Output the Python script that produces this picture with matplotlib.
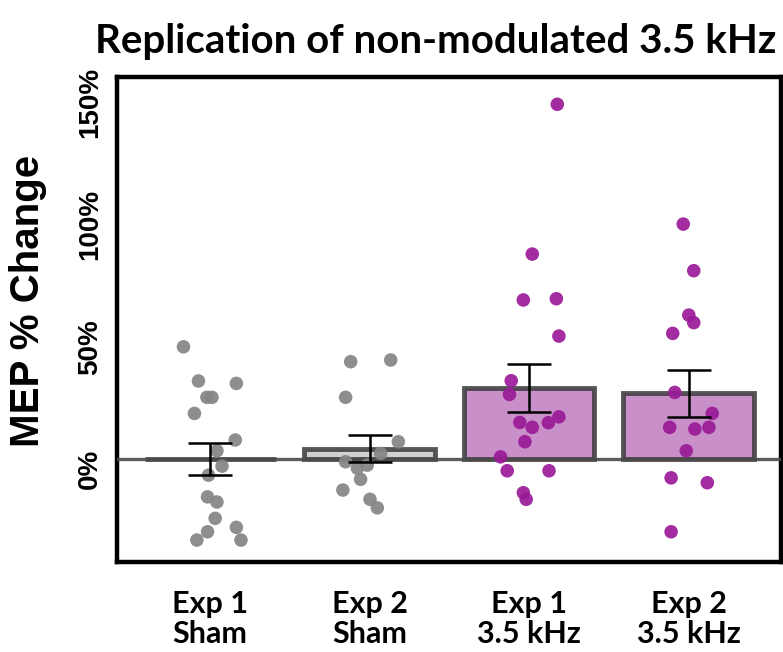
import matplotlib
matplotlib.use("Agg")
import matplotlib.pyplot as plt
import matplotlib.transforms as mtransforms
import numpy as np

# groups along the x axis
labels = ["Exp 1\nSham", "Exp 2\nSham", "Exp 1\n3.5 kHz", "Exp 2\n3.5 kHz"]

# bar means and standard errors (% change)
means = [-0.1, 4.3, 29.1, 27.0]
sems = [6.6, 5.4, 10.0, 9.7]

# individual subjects (% change) and their horizontal jitter
sham1 = [46.0, 32.0, 31.0, 25.3, 25.3, 18.7, 7.8, 3.4, -2.9, -6.6, -15.5, -17.6, -24.3, -28.0, -29.8, -33.2, -33.2]
sham1_jit = [-0.168, -0.074, 0.164, -0.021, 0.011, -0.099, 0.157, 0.042, 0.074, -0.011, -0.017, 0.042, 0.031, 0.164, -0.017, -0.084, 0.193]

sham2 = [39.9, 40.6, 25.3, 7.1, 2.3, -1.1, -3.8, -2.5, -8.3, -12.7, -16.5, -20.0]
sham2_jit = [-0.119, 0.132, -0.151, 0.180, 0.069, -0.151, -0.077, -0.015, -0.057, -0.168, 0.002, 0.048]

khz1 = [145.4, 84.0, 65.2, 65.7, 50.4, 32.1, 26.5, 15.0, 13.0, 14.9, 17.3, 7.1, 0.9, -4.8, -4.8, -13.8, -16.5]
khz1_jit = [0.177, 0.020, -0.036, 0.171, 0.187, -0.112, -0.123, -0.058, 0.020, 0.121, 0.187, -0.026, -0.179, -0.137, 0.125, -0.036, -0.018]

khz2 = [96.3, 77.2, 59.0, 55.9, 51.5, 27.3, 18.7, 13.0, 12.3, 13.0, 3.4, -7.7, -9.7, -29.8]
khz2_jit = [-0.033, 0.033, 0.002, 0.033, -0.099, -0.086, 0.149, -0.118, 0.040, 0.128, -0.014, -0.109, 0.118, -0.109]

points = [sham1, sham2, khz1, khz2]
jitter = [sham1_jit, sham2_jit, khz1_jit, khz2_jit]

bar_colors = ["#bdbdbd", "#c8c8c8", "#c07bbf", "#c07bbf"]
dot_colors = ["#858585", "#858585", "#9a1a98", "#9a1a98"]

fig = plt.figure(figsize=(7.83, 6.52), dpi=100)
ax = fig.add_axes([0.1494, 0.138, 0.848, 0.744])

x = np.arange(len(labels))
ax.bar(x, means, width=0.82, color=bar_colors, edgecolor="#3a3a3a",
       linewidth=3.5, alpha=0.85, zorder=2)
ax.axhline(0, color="#4a4a4a", linewidth=2.4, alpha=0.9, zorder=3)

for i in range(len(labels)):
    xs = x[i] + np.array(jitter[i])
    ax.scatter(xs, points[i], s=95, color=dot_colors[i], edgecolors="none",
               alpha=0.92, zorder=4)

ax.errorbar(x, means, yerr=sems, fmt="none", ecolor="black", elinewidth=1.8,
            capsize=16, capthick=1.8, zorder=5)

ax.set_xlim(-0.585, 3.58)
ax.set_ylim(-42.2, 156.6)

ax.set_xticks(x)
ax.set_xticklabels(labels, family="Lato", fontweight="bold", fontsize=22,
                   linespacing=1.1)
ax.set_yticks([0, 50, 100, 150])
ax.set_yticklabels(["0%", "50%", "100%", "150%"], rotation=90, va="center",
                   family="Liberation Sans", fontweight="bold", fontsize=20)
ax.tick_params(axis="both", length=0)
ax.tick_params(axis="x", pad=20)
ax.tick_params(axis="y", pad=10)

# the printed labels sit slightly below their ticks
shift = mtransforms.ScaledTranslation(0, -7 / 72, fig.dpi_scale_trans)
for t in ax.get_yticklabels():
    t.set_transform(t.get_transform() + shift)

for sp in ax.spines.values():
    sp.set_linewidth(3.2)
    sp.set_color("black")

ax.set_ylabel("MEP % Change", family="Liberation Sans", fontweight="bold",
              fontsize=29)
ax.yaxis.set_label_coords(-0.105, 0.538)
fig.text(0.557, 0.9356, "Replication of non-modulated 3.5 kHz", family="Lato",
         fontweight="bold", fontsize=29, ha="center", va="center")

fig.savefig("out.png", dpi=100)
